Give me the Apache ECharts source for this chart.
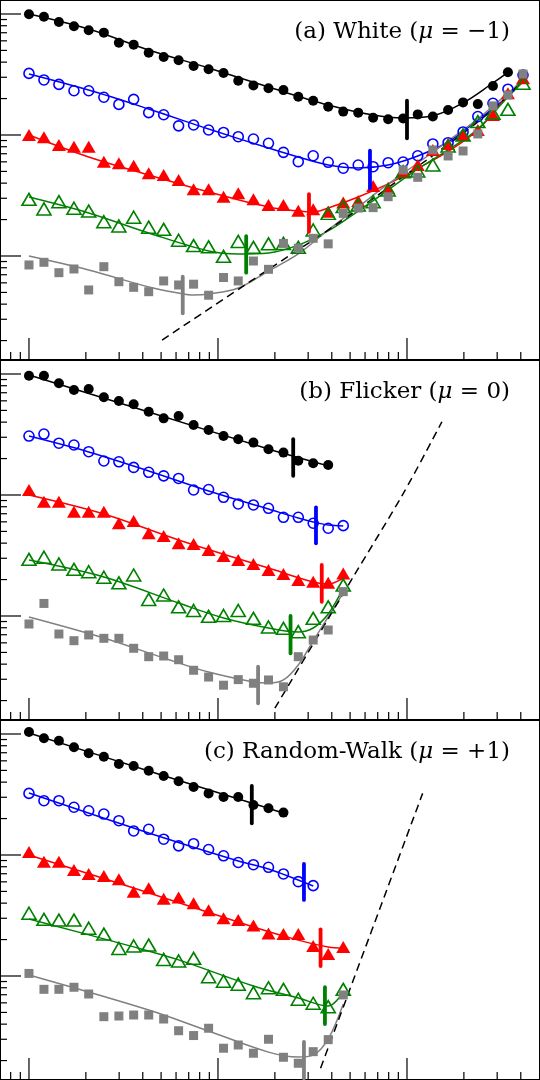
<!DOCTYPE html>
<html lang="en">
<head>
<meta charset="UTF-8">
<title>Allan deviation, three noise types</title>
<style>
  html, body { margin: 0; padding: 0; background: #fff; }
  #main { width: 540px; height: 1080px; }
</style>
</head>
<body>
<div id="main"></div>
<script src="https://cdn.jsdelivr.net/npm/echarts@6/dist/echarts.min.js"></script>
<script>
// averaging times, shared by every series
const tau = [1.00, 1.20, 1.44, 1.73, 2.07, 2.49, 2.99, 3.58, 4.30, 5.16, 6.19, 7.43, 8.92, 10.7, 12.8, 15.4,
  18.5, 22.2, 26.6, 31.9, 38.3, 46.0, 55.2, 66.2, 79.5, 95.4, 114, 137, 165, 198, 237, 285, 342, 411];

// tick values
const majorTicks = [1, 10, 100];
const xMinorTicks = [0.8, 0.9, 2, 3, 4, 5, 6, 7, 8, 9, 20, 30, 40, 50, 60, 70, 80, 90, 200, 300, 400];
const yMinorTicks = [0.2, 0.3, 0.4, 0.5, 0.6, 0.7, 0.8, 0.9, 2, 3, 4, 5, 6, 7, 8, 9, 20, 30, 40, 50, 60, 70, 80, 90];

// (a) white
const whiteBlack = [99.4, 95.0, 85.9, 79.1, 73.3, 70.1, 57.9, 55.8, 47.9, 44.1, 41.4, 37.2, 34.9, 32.5, 28.1, 25.7,
  24.3, 23.5, 20.7, 19.2, 17.1, 15.6, 15.3, 13.9, 13.5, 13.7, 14.8, 14.2, 16.1, 18.6, 18.0, 25.4, 33.0];
const whiteBlue = [32.3, 28.5, 26.2, 23.2, 23.2, 20.5, 17.9, 19.7, 15.3, 14.7, 11.9, 12.1, 11.0, 10.5, 9.68, 9.27,
  8.54, 7.19, 6.02, 6.74, 5.95, 5.31, 5.65, 5.47, 5.90, 5.98, 6.74, 8.43, 8.64, 10.6, 14.2, 18.3, 23.9, 31.3];
const whiteRed = [10.0, 9.57, 8.27, 8.00, 8.00, 6.02, 5.84, 5.58, 4.83, 4.67, 4.25, 3.56, 3.56, 3.09, 3.30, 2.94,
  2.64, 2.64, 2.37, 2.43, 2.32, 2.77, 2.85, 3.79, 3.65, 4.97, 5.65, 7.52, 8.43, 10.0, 11.0, 14.6, 22.1, 29.4];
const whiteGreen = [2.94, 2.45, 2.81, 2.48, 2.35, 1.92, 1.77, 2.09, 1.73, 1.66, 1.35, 1.22, 1.19, 0.994, 1.32, 1.18,
  1.26, 1.27, 1.18, 1.64, 2.25, 2.56, 2.64, 2.81, 3.51, 4.97, 5.04, 5.65, 8.11, 10.0, 12.9, 15.1, 16.3, 26.8];
const whiteGray = [0.843, 0.887, 0.728, 0.781, 0.524, 0.816, 0.613, 0.551, 0.507, 0.622, 0.576, 0.585, 0.474, 0.664, 0.622, 0.909,
  0.776, 1.27, 1.16, 1.40, 1.26, 2.25, 2.49, 2.51, 3.09, 5.14, 4.47, 7.52, 6.71, 7.38, 10.2, 17.4, 21.4, 31.9];
const whiteFits = [
  [[1, 100], [2.07, 75.2], [4.30, 50.4], [8.92, 35.8], [18.5, 24.9], [38.3, 17.7], [66.2, 14.6], [95.4, 13.8], [137, 14.4], [198, 18.4], [285, 26.9], [342, 32.9]],
  [[1, 31.9], [2.07, 23.5], [4.30, 16.4], [8.92, 11.2], [18.5, 7.81], [26.6, 6.58], [38.3, 5.65], [55.2, 5.34], [79.5, 5.65], [114, 6.71], [165, 8.75], [237, 13.3], [342, 21.0], [411, 30.2]],
  [[1, 10.0], [2.07, 6.58], [4.30, 4.67], [8.92, 3.38], [18.5, 2.54], [26.6, 2.35], [31.9, 2.31], [38.3, 2.49], [55.2, 3.07], [79.5, 3.94], [114, 5.29], [165, 7.31], [237, 11.0], [342, 21.4], [411, 28.5]],
  [[1, 3.07], [2.07, 2.27], [4.30, 1.55], [8.92, 1.10], [12.8, 1.04], [18.5, 1.06], [26.6, 1.23], [38.3, 1.61], [55.2, 2.35], [79.5, 3.51], [114, 5.24], [165, 7.52], [237, 11.2], [342, 20.6], [411, 27.4]],
  [[1, 1.00], [2.07, 0.766], [4.30, 0.555], [6.19, 0.494], [7.43, 0.476], [8.92, 0.485], [12.8, 0.544], [18.5, 0.752], [26.6, 1.04], [38.3, 1.64], [55.2, 2.54], [79.5, 3.94], [114, 5.87], [165, 8.92], [237, 13.6], [342, 22.2], [411, 28.5]]
];
const whiteDashed = [[5.06, 0.202], [16.7, 0.697], [44.2, 1.91], [95.2, 4.50], [169, 8.59], [275, 15.5], [406, 27.4]];
// [tau, low, high] for the thick vertical bars
const whiteBars = [[100, 9.39, 19.2], [63.7, 3.63, 7.42], [30.3, 1.59, 3.24], [14.1, 0.728, 1.46], [6.51, 0.336, 0.674]];

// (b) flicker
const flickerBlack = [96.8, 96.8, 83.8, 73.8, 75.2, 64.2, 59.8, 56.2, 48.8, 43.0, 45.0, 37.9, 34.4, 30.7, 28.9, 27.1,
  23.9, 22.4, 19.2, 18.3, 17.7];
const flickerBlue = [30.7, 31.9, 26.8, 25.9, 22.8, 19.1, 18.8, 16.9, 15.4, 14.4, 13.7, 11.0, 11.1, 9.57, 8.43, 8.27,
  7.76, 6.54, 6.54, 5.84, 5.31, 5.58];
const flickerRed = [11.0, 8.80, 8.80, 7.28, 7.28, 7.28, 5.84, 6.10, 4.83, 4.58, 3.99, 3.94, 3.51, 3.13, 2.90, 2.69,
  2.40, 2.22, 1.98, 1.92, 1.88, 2.25];
const flickerGreen = [2.94, 3.06, 2.69, 2.43, 2.32, 2.09, 1.88, 2.18, 1.37, 1.49, 1.19, 1.11, 0.994, 1.01, 1.11, 0.957,
  0.811, 0.791, 0.742, 0.957, 1.19, 1.80];
const flickerGray = [0.859, 1.27, 0.710, 0.625, 0.697, 0.654, 0.654, 0.541, 0.461, 0.467, 0.435, 0.356, 0.313, 0.268, 0.298, 0.278,
  0.296, 0.260, 0.461, 0.633, 0.766, 1.59];
const flickerFits = [
  [[1, 98.1], [4.30, 48.5], [18.5, 24.0], [38.3, 17.4]],
  [[1, 30.7], [2.07, 22.7], [4.30, 15.8], [8.92, 10.8], [18.5, 7.66], [26.6, 6.45], [31.9, 5.98], [38.3, 5.65], [46.0, 5.54]],
  [[1, 10.0], [2.49, 6.97], [6.19, 4.25], [18.5, 2.49], [31.9, 1.91], [38.3, 1.84], [46.0, 2.06]],
  [[1, 2.90], [2.49, 2.10], [6.19, 1.28], [10.7, 0.963], [18.5, 0.796], [26.6, 0.738], [31.9, 0.796], [38.3, 1.04], [46.0, 1.70]],
  [[1, 0.981], [2.49, 0.658], [5.16, 0.450], [8.92, 0.344], [15.4, 0.285], [18.5, 0.279], [22.2, 0.296], [26.6, 0.394], [31.9, 0.622], [38.3, 0.981], [46.0, 1.55]]
];
const flickerDashed = [[20.0, 0.173], [52.0, 2.11], [95.6, 10.3], [153, 40.3]];
const flickerBars = [[25.0, 14.4, 28.9], [33.0, 3.99, 7.91], [35.4, 1.31, 2.64], [24.2, 0.492, 1.00], [16.3, 0.190, 0.381]];

// (c) random walk
const walkBlack = [104, 92.1, 88.0, 77.6, 69.3, 64.9, 56.5, 54.4, 49.7, 45.0, 40.7, 36.5, 32.3, 30.2, 30.2, 25.9,
  24.3, 22.4];
const walkBlue = [32.3, 28.1, 28.1, 24.8, 23.2, 21.8, 19.2, 15.8, 16.3, 13.5, 11.9, 12.4, 11.1, 9.85, 8.67, 8.31,
  7.91, 6.97, 6.02, 5.58];
const walkRed = [10.6, 8.80, 8.80, 7.52, 6.97, 6.71, 6.30, 4.97, 5.31, 4.35, 4.45, 3.99, 3.49, 3.00, 2.90, 2.61,
  2.25, 2.22, 2.22, 1.77, 1.52, 1.74];
const walkGreen = [3.30, 2.94, 2.90, 2.90, 2.48, 2.22, 1.69, 1.77, 1.80, 1.37, 1.33, 1.40, 0.987, 0.906, 0.856, 0.728,
  0.799, 0.776, 0.642, 0.595, 0.558, 0.776];
const walkGray = [1.05, 0.776, 0.776, 0.807, 0.710, 0.461, 0.467, 0.476, 0.476, 0.441, 0.353, 0.322, 0.370, 0.253, 0.269, 0.230,
  0.300, 0.213, 0.190, 0.237, 0.298, 0.697];
const walkFits = [
  [[1, 102], [4.30, 49.5], [18.5, 24.3], [22.2, 22.2]],
  [[1, 32.5], [4.30, 15.2], [12.8, 8.92], [18.5, 7.66], [31.9, 5.54]],
  [[1, 10.0], [3.58, 5.34], [15.4, 2.54], [26.6, 1.98], [38.3, 1.74], [46.0, 1.70]],
  [[1, 2.96], [3.58, 1.74], [6.19, 1.36], [15.4, 0.827], [26.6, 0.658], [38.3, 0.565], [46.0, 0.738]],
  [[1, 1.02], [4.30, 0.524], [8.92, 0.351], [18.5, 0.235], [26.6, 0.214], [31.9, 0.222], [38.3, 0.302], [46.0, 0.587]]
];
const walkDashed = [[34.9, 0.173], [121, 32.3]];
const walkBars = [[15.1, 18.3, 37.2], [28.5, 4.25, 8.43], [34.9, 1.21, 2.43], [36.8, 0.401, 0.807], [28.5, 0.143, 0.286]];

const panelTitles = [
  '(a) White ({i|μ} = −1)',
  '(b) Flicker ({i|μ} = 0)',
  '(c) Random-Walk ({i|μ} = +1)'
];

// axis extents (no labels on the figure, so picked to fit the frame)
const X_MIN = 0.7026, X_MAX = 505.5;
const Y_MIN = 0.1382, Y_MAX = 130.5;

const colors = ['#000000', '#0000ff', '#ff0000', '#008000', '#808080'];
const symbols = [
  { symbol: 'circle', size: 10, fill: '#000000', border: null },
  { symbol: 'circle', size: 10, fill: 'rgba(0,0,0,0)', border: '#0000ff' },
  { symbol: 'triangle', size: [14, 12], fill: '#ff0000', border: null },
  { symbol: 'triangle', size: [14, 12], fill: 'rgba(0,0,0,0)', border: '#008000' },
  { symbol: 'rect', size: 9, fill: '#808080', border: null }
];

const panels = [
  { points: [whiteBlack, whiteBlue, whiteRed, whiteGreen, whiteGray], fits: whiteFits, dashed: whiteDashed, bars: whiteBars },
  { points: [flickerBlack, flickerBlue, flickerRed, flickerGreen, flickerGray], fits: flickerFits, dashed: flickerDashed, bars: flickerBars },
  { points: [walkBlack, walkBlue, walkRed, walkGreen, walkGray], fits: walkFits, dashed: walkDashed, bars: walkBars }
];

var myChart = echarts.init(document.getElementById('main'));

const grids = [], xAxes = [], yAxes = [], titles = [], series = [];

function tickSeries(p, dir, values, len) {
  return {
    type: 'custom', xAxisIndex: p, yAxisIndex: p, clip: false, silent: true, z: 10,
    data: values.map(v => dir === 'x' ? [v, Y_MIN] : [X_MIN, v]),
    renderItem: function (params, api) {
      const pt = api.coord([api.value(0), api.value(1)]);
      const shape = dir === 'x'
        ? { x1: pt[0], y1: pt[1], x2: pt[0], y2: pt[1] - len }
        : { x1: pt[0], y1: pt[1], x2: pt[0] + len, y2: pt[1] };
      return { type: 'line', shape: shape, style: { stroke: '#000', lineWidth: 1.2 } };
    }
  };
}

panels.forEach(function (panel, p) {
  grids.push({
    left: 0, top: p * 360, width: 540, height: 360,
    show: true, borderColor: '#000', borderWidth: 2, backgroundColor: '#fff'
  });
  const hidden = { axisLine: { show: false }, axisTick: { show: false }, axisLabel: { show: false }, splitLine: { show: false } };
  xAxes.push(Object.assign({ type: 'log', logBase: 10, gridIndex: p, min: X_MIN, max: X_MAX }, hidden));
  yAxes.push(Object.assign({ type: 'log', logBase: 10, gridIndex: p, min: Y_MIN, max: Y_MAX }, hidden));

  titles.push({
    text: panelTitles[p],
    right: 30, top: p * 360 + 21, padding: 0,
    textStyle: {
      fontFamily: 'DejaVu Serif', fontSize: 23, fontWeight: 'normal', color: '#000',
      rich: { i: { fontFamily: 'DejaVu Serif', fontSize: 23, fontStyle: 'italic', color: '#000' } }
    }
  });

  // fitted curves
  panel.fits.forEach(function (fit, j) {
    series.push({
      type: 'line', xAxisIndex: p, yAxisIndex: p, data: fit, smooth: 0.35,
      showSymbol: false, silent: true, z: 2,
      lineStyle: { color: colors[j], width: 1.5 }
    });
  });

  // dashed reference line
  series.push({
    type: 'line', xAxisIndex: p, yAxisIndex: p, data: panel.dashed, smooth: 0.3,
    showSymbol: false, silent: true, z: 2,
    lineStyle: { color: '#000', width: 1.5, type: [8, 5] }
  });

  // measured points
  panel.points.forEach(function (vals, j) {
    const s = symbols[j];
    series.push({
      type: 'scatter', xAxisIndex: p, yAxisIndex: p, silent: true, z: 3,
      symbol: s.symbol, symbolSize: s.size,
      data: vals.map((v, i) => [tau[i], v]),
      itemStyle: s.border
        ? { color: s.fill, borderColor: s.border, borderWidth: 1.6, opacity: 1 }
        : { color: s.fill, opacity: 1 }
    });
  });

  // thick vertical bars
  series.push({
    type: 'custom', xAxisIndex: p, yAxisIndex: p, silent: true, z: 4,
    data: panel.bars,
    renderItem: function (params, api) {
      const a = api.coord([api.value(0), api.value(1)]);
      const b = api.coord([api.value(0), api.value(2)]);
      return {
        type: 'line',
        shape: { x1: a[0], y1: a[1], x2: b[0], y2: b[1] },
        style: { stroke: colors[params.dataIndex], lineWidth: 3.8, lineCap: 'round' }
      };
    }
  });

  series.push(tickSeries(p, 'x', majorTicks, 22));
  series.push(tickSeries(p, 'x', xMinorTicks, 8));
  series.push(tickSeries(p, 'y', majorTicks, 21));
  series.push(tickSeries(p, 'y', yMinorTicks, 7));
});

var option = {
  animation: false,
  backgroundColor: '#fff',
  title: titles,
  grid: grids,
  xAxis: xAxes,
  yAxis: yAxes,
  series: series
};

myChart.setOption(option);
</script>
</body>
</html>
